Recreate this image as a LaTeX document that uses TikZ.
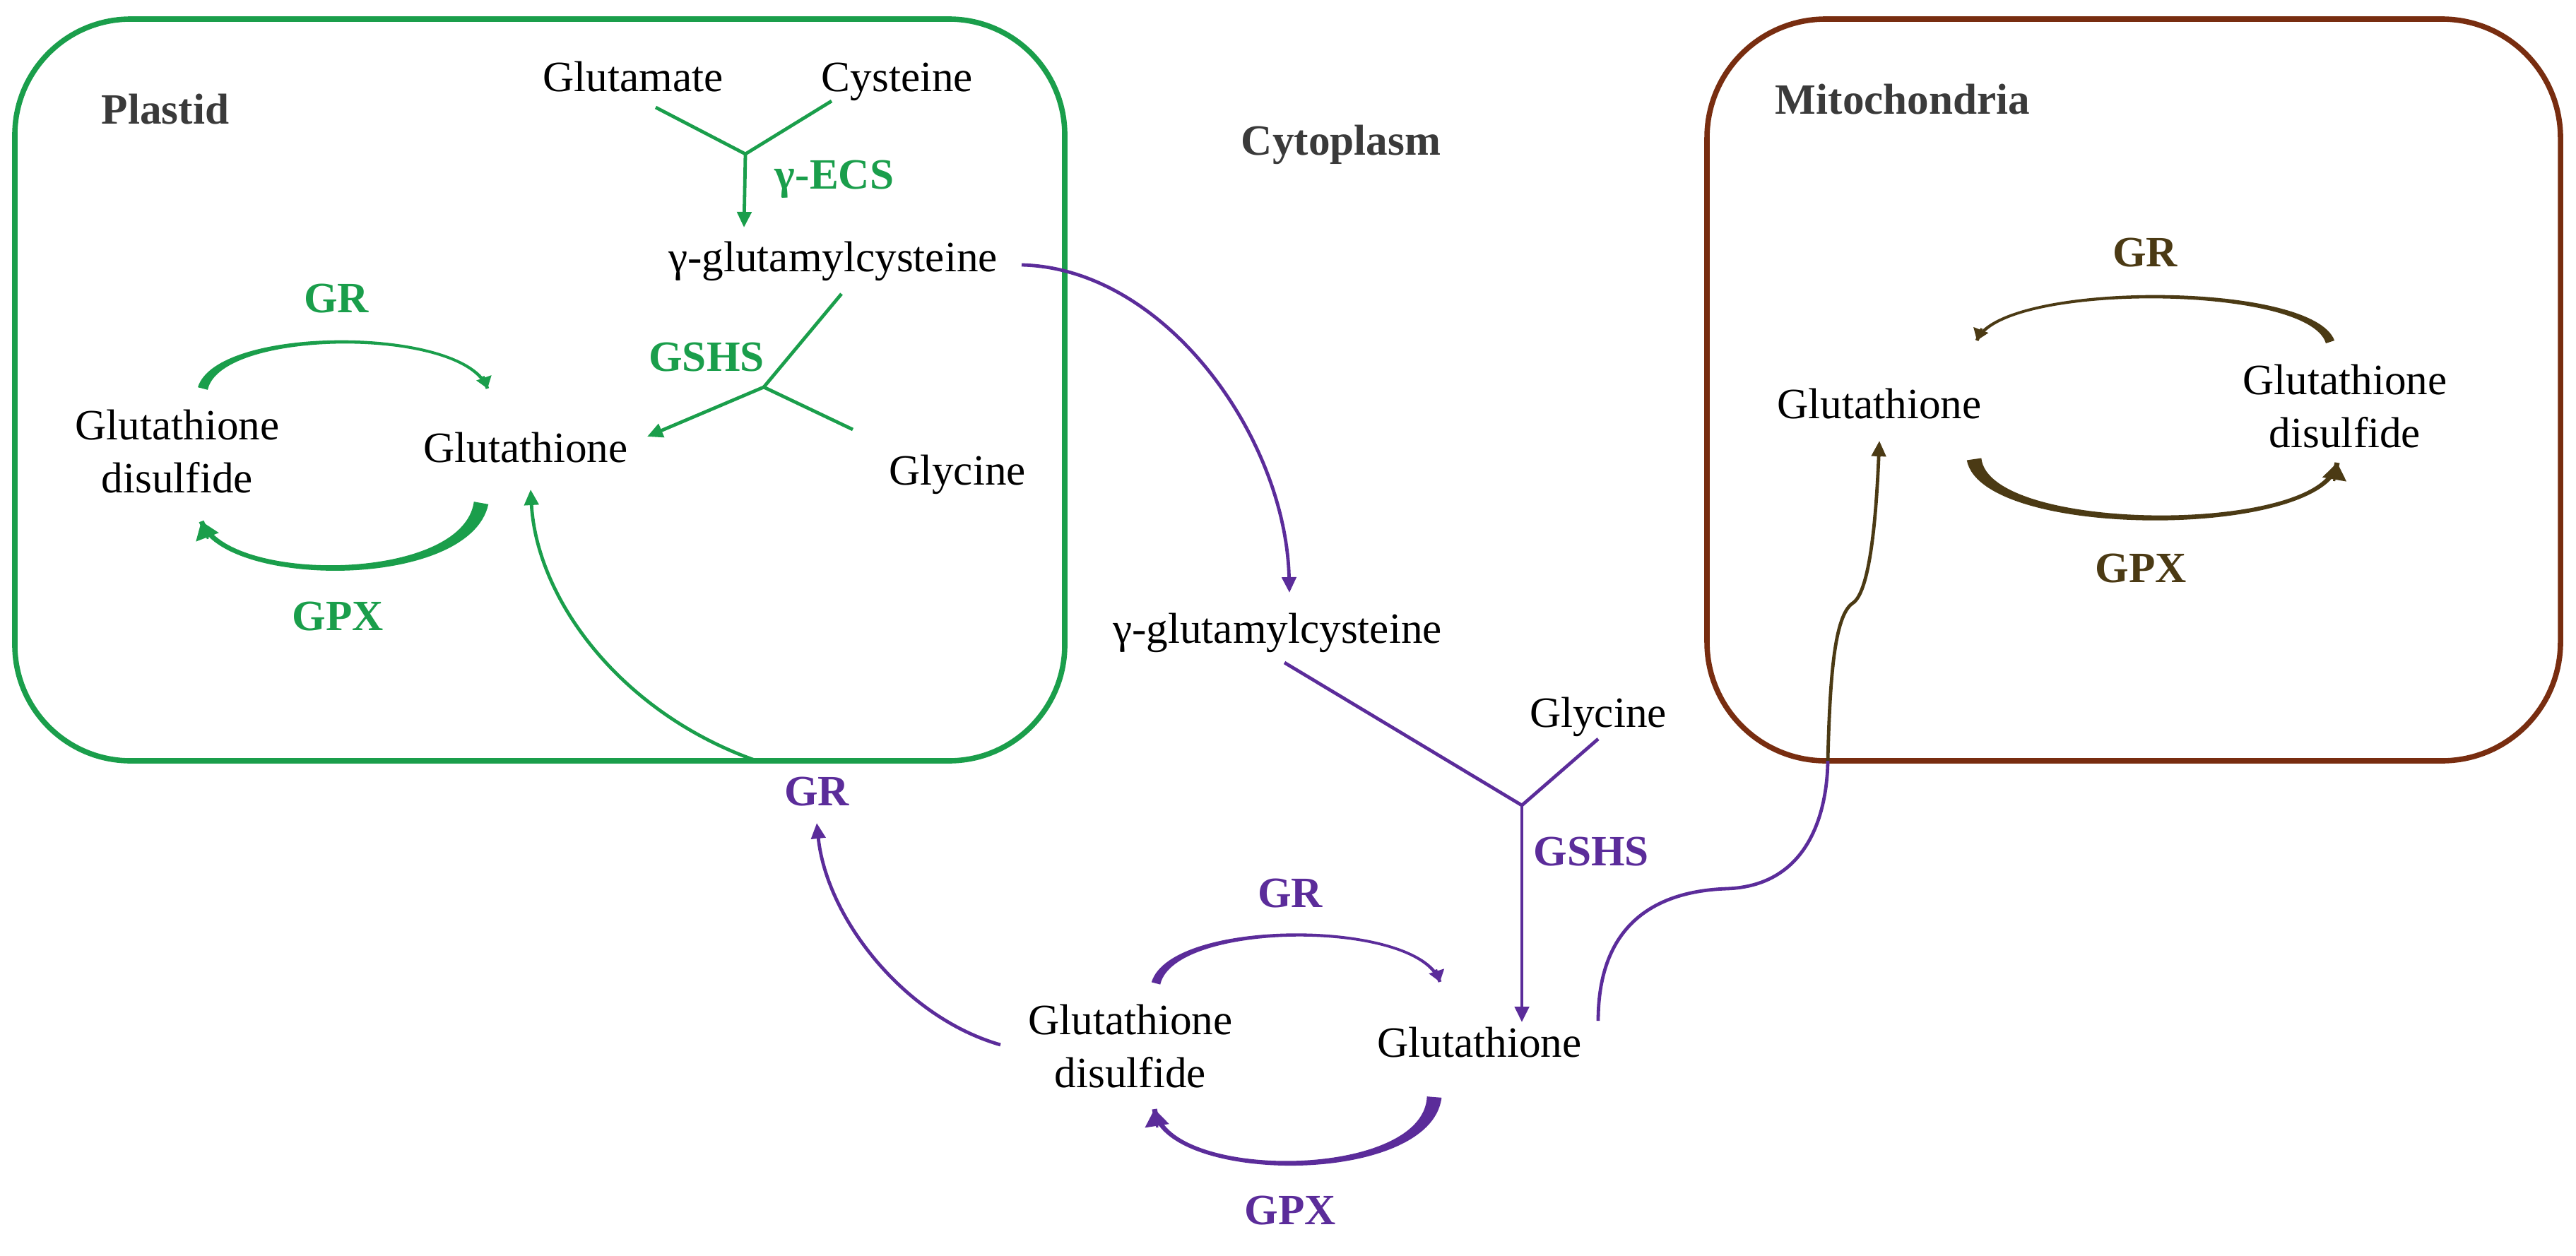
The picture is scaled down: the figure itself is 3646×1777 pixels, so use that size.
\documentclass[tikz,border=0pt]{standalone}
\usepackage{fontspec}
\setmainfont{Liberation Serif}
\usetikzlibrary{arrows.meta,calc}
\definecolor{pgreen}{HTML}{1A9E4B}
\definecolor{ppurple}{HTML}{5B2C9A}
\definecolor{mbox}{HTML}{782D10}
\definecolor{mdark}{HTML}{4B3A14}
\definecolor{lgray}{HTML}{3A3A3A}
% tapered cycle arrow: color, S, C1, C2, E, half thickness at S, at C1, at C2, at E
\newcommand\taperarc[9]{%
  \coordinate (tA) at ($(#3)!#7!-90:(#2)$);
  \coordinate (tB) at ($(#3)!#7!90:(#4)$);
  \coordinate (c1o) at ($(tA)!0.5!(tB)$);
  \coordinate (tA) at ($(#3)!#7!90:(#2)$);
  \coordinate (tB) at ($(#3)!#7!-90:(#4)$);
  \coordinate (c1i) at ($(tA)!0.5!(tB)$);
  \coordinate (tA) at ($(#4)!#8!-90:(#3)$);
  \coordinate (tB) at ($(#4)!#8!90:(#5)$);
  \coordinate (c2o) at ($(tA)!0.5!(tB)$);
  \coordinate (tA) at ($(#4)!#8!90:(#3)$);
  \coordinate (tB) at ($(#4)!#8!-90:(#5)$);
  \coordinate (c2i) at ($(tA)!0.5!(tB)$);
  \fill[#1] ($(#2)!#6!90:(#3)$) .. controls (c1o) and (c2o) .. ($(#5)!#9!-90:(#4)$)
     -- ($(#5)!#9!90:(#4)$) .. controls (c2i) and (c1i) .. ($(#2)!#6!-90:(#3)$) -- cycle;
  \draw[#1, line width=0.8pt, arcarrow] ($(#5)!\arclen!(#4)$) -- (#5);
}
\begin{document}
\begin{tikzpicture}[x=0.25pt,y=-0.25pt,
  txt/.style={font=\fontsize{15.3pt}{18.6pt}\selectfont, inner sep=0pt, align=center},
  lbl/.style={font=\fontsize{15.3pt}{18.6pt}\selectfont\bfseries, inner sep=0pt, align=center},
  comp/.style={minimum width=#1, minimum height=262.5pt, line width=1.9pt, inner sep=0pt},
  conn/.style={line width=1.2pt},
  arr/.style={conn, -{Triangle[length=5.5pt,width=5pt]}},
  grtip/.style={arcarrow/.style={-{Triangle[length=4pt,width=5.5pt]}}, /utils/exec=\def\arclen{4.6pt}},
  gpxtip/.style={arcarrow/.style={-{Triangle[length=6pt,width=8.5pt]}}, /utils/exec=\def\arclen{6.6pt}}]
\useasboundingbox (0,0) rectangle (3646,1777);

% compartments
\node[comp=371.5pt, draw=pgreen, rounded corners=41pt] (plastid) at (764,552) {};
\node[comp=302pt, draw=mbox, rounded corners=42pt] (mito) at (3020,552) {};

\node[lbl, text=lgray, anchor=base] (lplastid) at (234,175) {Plastid};
\node[lbl, text=lgray, anchor=base] (lcyto) at (1898,219) {Cytoplasm};
\node[lbl, text=lgray, anchor=base] (lmito) at (2693,161) {Mitochondria};

% ---------- plastid ----------
\node[txt, anchor=base] (glu) at (896,129) {Glutamate};
\node[txt, anchor=base] (cys) at (1270,129) {Cysteine};
\node[lbl, text=pgreen, anchor=base] (gecs) at (1181,267) {γ-ECS};
\node[txt, anchor=base] (gglu1) at (1179,384) {γ-glutamylcysteine};
\node[lbl, text=pgreen, anchor=base] (gshs1) at (1000,525) {GSHS};
\node[txt, anchor=base] (gly1) at (1355,686) {Glycine};
\node[txt, anchor=base] (gsh1) at (744,654) {Glutathione};
\node[txt] (gssg1) at (251,639) {Glutathione\\disulfide};
\node[lbl, text=pgreen, anchor=base] (gr1) at (476,442) {GR};
\node[lbl, text=pgreen, anchor=base] (gpx1) at (478,892) {GPX};

\coordinate (glue) at (928,152);
\coordinate (cyse) at (1177,143);
\coordinate (j1) at (1055,218);
\coordinate (j1t) at (1053,322);
\draw[conn, pgreen] (glue) -- (j1) -- (cyse);
\draw[arr, pgreen] (j1) -- (j1t);

\coordinate (gg1e) at (1191,416);
\coordinate (gly1e) at (1207,608);
\coordinate (j2) at (1081,548);
\coordinate (j2t) at (916,618);
\draw[conn, pgreen] (gg1e) -- (j2) -- (gly1e);
\draw[arr, pgreen] (j2) -- (j2t);

\coordinate (a1s) at (287,550);
\coordinate (a1c1) at (310,462);
\coordinate (a1c2) at (660,462);
\coordinate (a1e) at (690,550);
\begin{scope}[grtip]
\taperarc{pgreen}{a1s}{a1c1}{a1c2}{a1e}{1.8pt}{1.3pt}{0.8pt}{0.6pt}
\end{scope}
\coordinate (b1s) at (681,712);
\coordinate (b1c1) at (660,830);
\coordinate (b1c2) at (320,830);
\coordinate (b1e) at (285,738);
\begin{scope}[gpxtip]
\taperarc{pgreen}{b1s}{b1c1}{b1c2}{b1e}{2.6pt}{2.4pt}{1.4pt}{0.9pt}
\end{scope}

\coordinate (pin) at (1071,1077);
\coordinate (pint) at (751,693);
\draw[arr, pgreen] (pin) .. controls (880,1010) and (760,850) .. (pint);

% ---------- cytoplasm ----------
\node[lbl, text=ppurple, anchor=base] (grp) at (1156,1140) {GR};
\node[txt, anchor=base] (gglu2) at (1808,910) {γ-glutamylcysteine};
\node[txt, anchor=base] (gly2) at (2262,1029) {Glycine};
\node[lbl, text=ppurple, anchor=base] (gshs2) at (2252,1225) {GSHS};
\node[lbl, text=ppurple, anchor=base] (gr2) at (1826,1284) {GR};
\node[txt] (gssg2) at (1600,1481) {Glutathione\\disulfide};
\node[txt, anchor=base] (gsh2) at (2094,1496) {Glutathione};
\node[lbl, text=ppurple, anchor=base] (gpx2) at (1826,1733) {GPX};

\coordinate (gg1out) at (1446,375);
\coordinate (gg2t) at (1825,839);
\draw[arr, ppurple] (gg1out) .. controls (1650,380) and (1820,620) .. (gg2t);

\coordinate (gg2e) at (1818,938);
\coordinate (gly2e) at (2262,1046);
\coordinate (j3) at (2154,1140);
\coordinate (j3t) at (2154,1447);
\draw[conn, ppurple] (gg2e) -- (j3) -- (gly2e);
\draw[arr, ppurple] (j3) -- (j3t);

\coordinate (a2s) at (1636,1392);
\coordinate (a2c1) at (1660,1301);
\coordinate (a2c2) at (2010,1301);
\coordinate (a2e) at (2038,1390);
\begin{scope}[grtip]
\taperarc{ppurple}{a2s}{a2c1}{a2c2}{a2e}{1.6pt}{1.2pt}{0.8pt}{0.6pt}
\end{scope}
\coordinate (b2s) at (2030,1553);
\coordinate (b2c1) at (2020,1675);
\coordinate (b2c2) at (1650,1675);
\coordinate (b2e) at (1634,1570);
\begin{scope}[gpxtip]
\taperarc{ppurple}{b2s}{b2c1}{b2c2}{b2e}{2.6pt}{2.4pt}{1.4pt}{0.9pt}
\end{scope}

\coordinate (gs2out) at (1416,1479);
\coordinate (grpt) at (1156,1165);
\draw[arr, ppurple] (gs2out) .. controls (1280,1440) and (1170,1300) .. (grpt);

\coordinate (gsh2out) at (2262,1445);
\coordinate (bend) at (2444,1258);
\coordinate (min) at (2587,1077);
\draw[conn, ppurple] (gsh2out) .. controls (2262,1320) and (2330,1262) .. (bend)
   .. controls (2560,1254) and (2586,1150) .. (min);

% ---------- mitochondria ----------
\node[txt, anchor=base] (gsh3) at (2660,592) {Glutathione};
\node[txt] (gssg3) at (3319,575) {Glutathione\\disulfide};
\node[lbl, text=mdark, anchor=base] (gr3) at (3036,377) {GR};
\node[lbl, text=mdark, anchor=base] (gpx3) at (3030,824) {GPX};

\coordinate (kink) at (2622,854);
\coordinate (gsh3t) at (2660,624);
\draw[arr, mdark] (min) .. controls (2590,960) and (2596,872) .. (kink)
   .. controls (2648,838) and (2656,720) .. (gsh3t);

\coordinate (a3s) at (3298,484);
\coordinate (a3c1) at (3270,399);
\coordinate (a3c2) at (2830,399);
\coordinate (a3e) at (2798,482);
\begin{scope}[grtip]
\taperarc{mdark}{a3s}{a3c1}{a3c2}{a3e}{1.6pt}{1.2pt}{0.8pt}{0.6pt}
\end{scope}
\coordinate (b3s) at (2794,650);
\coordinate (b3c1) at (2810,760);
\coordinate (b3c2) at (3290,760);
\coordinate (b3e) at (3308,655);
\begin{scope}[gpxtip]
\taperarc{mdark}{b3s}{b3c1}{b3c2}{b3e}{2.6pt}{2.4pt}{1.4pt}{0.9pt}
\end{scope}
\end{tikzpicture}
\end{document}
